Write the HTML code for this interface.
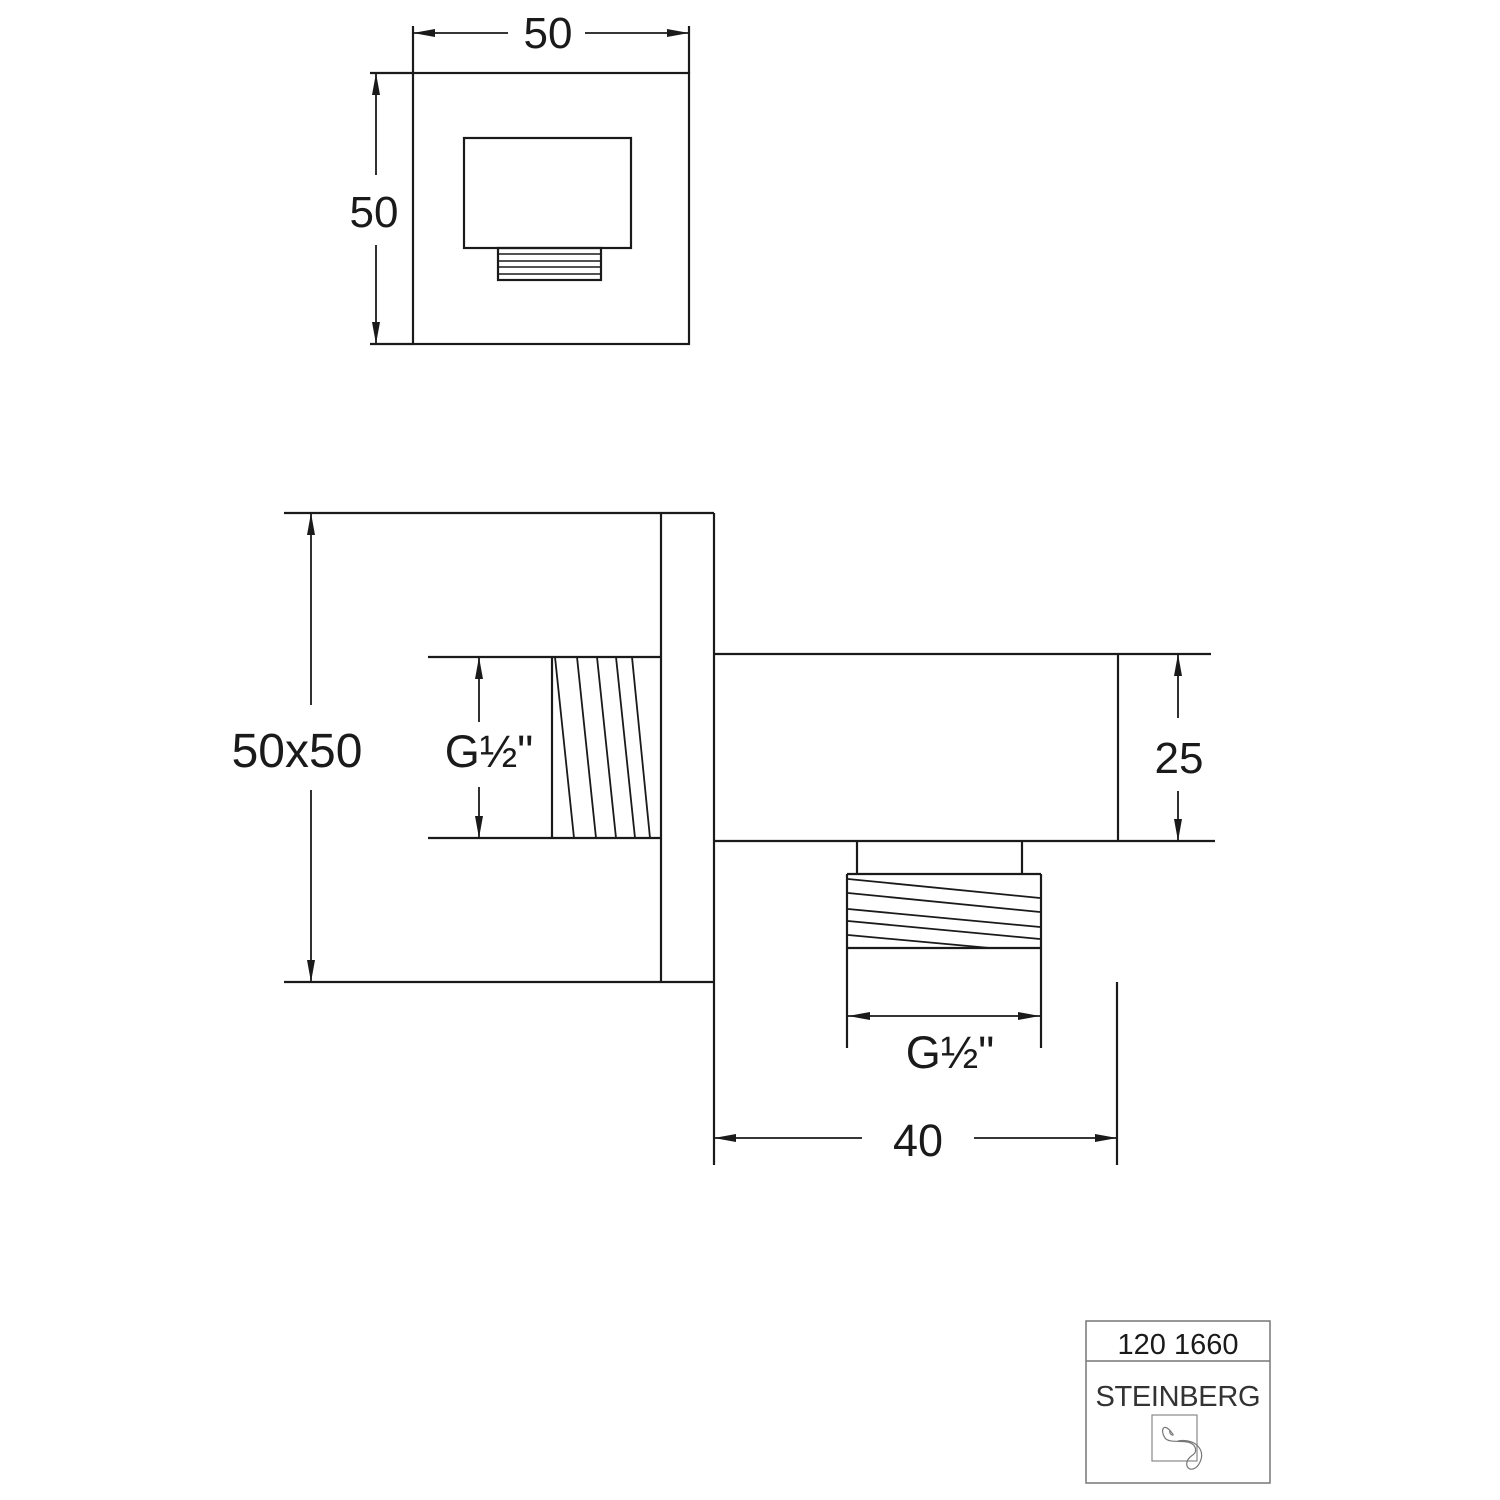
<!DOCTYPE html>
<html><head><meta charset="utf-8"><style>
html,body{margin:0;padding:0;background:#fff}
svg{display:block}
text{font-family:"Liberation Sans",sans-serif;fill:#1a1a1a}
</style></head><body>
<svg width="1500" height="1500" viewBox="0 0 1500 1500" xmlns="http://www.w3.org/2000/svg">
<g stroke="#1a1a1a" stroke-width="2.2" fill="none">
<rect x="413" y="73" width="276" height="271"/>
<line x1="413" y1="26" x2="413" y2="73"/>
<line x1="689" y1="26" x2="689" y2="73"/>
<line x1="370" y1="73" x2="413" y2="73"/>
<line x1="370" y1="344" x2="413" y2="344"/>
<line x1="413" y1="33" x2="508" y2="33" stroke-width="1.8"/>
<line x1="585" y1="33" x2="689" y2="33" stroke-width="1.8"/>
<line x1="376" y1="73" x2="376" y2="175" stroke-width="1.8"/>
<line x1="376" y1="245" x2="376" y2="344" stroke-width="1.8"/>
<rect x="464" y="138" width="167" height="110"/>
<rect x="498" y="248" width="103" height="32"/>
<line x1="498" y1="254" x2="601" y2="254" stroke-width="1.6"/>
<line x1="498" y1="261" x2="601" y2="261" stroke-width="1.6"/>
<line x1="498" y1="267" x2="601" y2="267" stroke-width="1.6"/>
<line x1="498" y1="274" x2="601" y2="274" stroke-width="1.6"/>

<line x1="284" y1="513" x2="714" y2="513"/>
<line x1="284" y1="982" x2="714" y2="982"/>
<line x1="661" y1="513" x2="661" y2="982"/>
<line x1="714" y1="513" x2="714" y2="1165"/>
<line x1="311" y1="513" x2="311" y2="705" stroke-width="1.8"/>
<line x1="311" y1="790" x2="311" y2="982" stroke-width="1.8"/>

<line x1="428" y1="657" x2="661" y2="657"/>
<line x1="428" y1="838" x2="661" y2="838"/>
<line x1="552" y1="657" x2="552" y2="838"/>
<g stroke-width="1.8">
<line x1="555" y1="657" x2="574" y2="838"/>
<line x1="577" y1="657" x2="596" y2="838"/>
<line x1="597" y1="657" x2="616" y2="838"/>
<line x1="616" y1="657" x2="635" y2="838"/>
<line x1="632" y1="657" x2="650" y2="838"/>
</g>
<line x1="479" y1="657" x2="479" y2="722" stroke-width="1.8"/>
<line x1="479" y1="787" x2="479" y2="838" stroke-width="1.8"/>

<line x1="714" y1="654" x2="1211" y2="654"/>
<line x1="714" y1="841" x2="1215" y2="841"/>
<line x1="1118" y1="654" x2="1118" y2="841"/>
<line x1="1178" y1="654" x2="1178" y2="718" stroke-width="1.8"/>
<line x1="1178" y1="791" x2="1178" y2="841" stroke-width="1.8"/>

<line x1="857" y1="841" x2="857" y2="874"/>
<line x1="1022" y1="841" x2="1022" y2="874"/>
<line x1="847" y1="874" x2="1041" y2="874"/>
<line x1="847" y1="874" x2="847" y2="1048"/>
<line x1="1041" y1="874" x2="1041" y2="1048"/>
<line x1="847" y1="948" x2="1041" y2="948"/>
<g stroke-width="1.8">
<line x1="848" y1="879" x2="1040" y2="898"/>
<line x1="848" y1="893" x2="1040" y2="912"/>
<line x1="848" y1="909" x2="1040" y2="927"/>
<line x1="848" y1="921" x2="1040" y2="939"/>
<line x1="848" y1="935" x2="990" y2="948"/>
</g>
<line x1="848" y1="1016" x2="1040" y2="1016" stroke-width="1.8"/>
<line x1="1117" y1="982" x2="1117" y2="1165"/>
<line x1="714" y1="1138" x2="862" y2="1138" stroke-width="1.8"/>
<line x1="974" y1="1138" x2="1117" y2="1138" stroke-width="1.8"/>

<rect x="1086" y="1321" width="184" height="162" stroke="#777" stroke-width="1.5"/>
<line x1="1086" y1="1361" x2="1270" y2="1361" stroke="#777" stroke-width="1.5"/>
<rect x="1152" y="1415" width="45" height="46" stroke="#888" stroke-width="1.2"/>
<path d="M1178 1441 C1195 1438 1206 1450 1200 1462 C1195 1473 1185 1470 1187 1462 C1189 1454 1198 1456 1195 1447 C1190 1437 1170 1445 1165 1438 C1160 1431 1163 1421 1172 1433 C1176 1437 1168 1435 1170 1430" stroke="#777" stroke-width="1.2"/>
</g>
<g fill="#1a1a1a">
<polygon points="413,33 435,29 435,37"/>
<polygon points="689,33 667,29 667,37"/>
<polygon points="376,73 372,95 380,95"/>
<polygon points="376,344 372,322 380,322"/>
<polygon points="311,513 307,535 315,535"/>
<polygon points="311,982 307,960 315,960"/>
<polygon points="479,657 475,679 483,679"/>
<polygon points="479,838 475,816 483,816"/>
<polygon points="1178,654 1174,676 1182,676"/>
<polygon points="1178,841 1174,819 1182,819"/>
<polygon points="848,1016 870,1012 870,1020"/>
<polygon points="1040,1016 1018,1012 1018,1020"/>
<polygon points="714,1138 736,1134 736,1142"/>
<polygon points="1117,1138 1095,1134 1095,1142"/>
</g>
<text x="548" y="48" font-size="44" text-anchor="middle">50</text>
<text x="374" y="227" font-size="44" text-anchor="middle">50</text>
<text x="297" y="767" font-size="48" text-anchor="middle">50x50</text>
<text x="489" y="767" font-size="45" text-anchor="middle">G½"</text>
<text x="1179" y="773" font-size="44" text-anchor="middle">25</text>
<text x="950" y="1068" font-size="45" text-anchor="middle">G½"</text>
<text x="918" y="1156" font-size="45" text-anchor="middle">40</text>
<text x="1178" y="1354" font-size="29" text-anchor="middle">120 1660</text>
<text x="1178" y="1406" font-size="29" text-anchor="middle" style="fill:#333;font-weight:300" textLength="165">STEINBERG</text>
</svg>
</body></html>
